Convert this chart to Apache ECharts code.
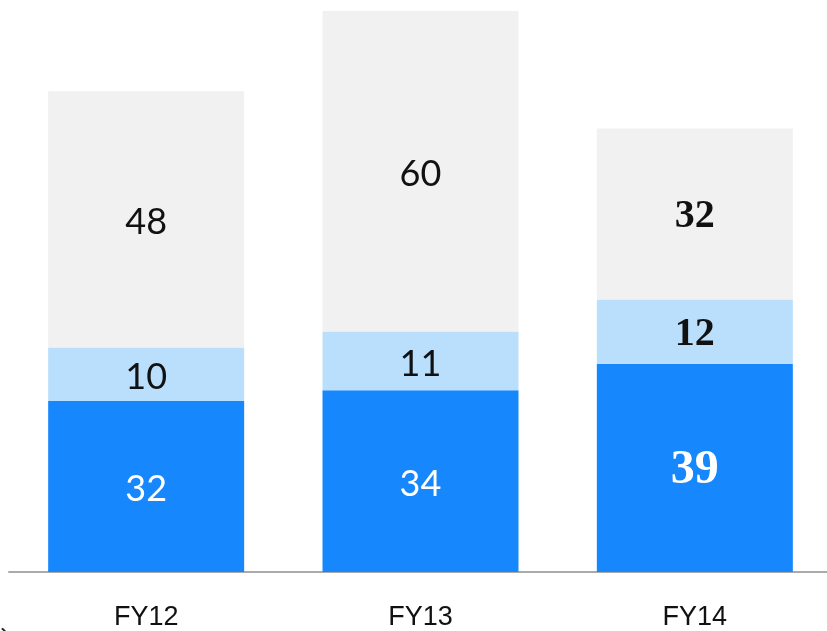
<!DOCTYPE html>
<html><head><meta charset="utf-8">
<script src="https://cdn.jsdelivr.net/npm/echarts@6/dist/echarts.min.js"></script>
<style>html,body{margin:0;padding:0;background:#fff;overflow:hidden}#c{width:832px;height:631px}</style>
</head><body><div id="c"></div>
<script>
const categories = ['FY12', 'FY13', 'FY14'];
const bottomValues = [32, 34, 39];
const middleValues = [10, 11, 12];
const topValues = [48, 60, 32];

const sansLabel = { show: true, position: 'inside', fontFamily: 'Lato', fontWeight: 400, fontSize: 36, offset: [0, 3] };
const serifLabel = { fontFamily: 'Liberation Serif', fontWeight: 'bold', fontSize: 40 };

function mk(vals, big) {
  return vals.map((v, i) => i === 2 ? { value: v, label: Object.assign({}, serifLabel, big ? { fontSize: 48 } : {}) } : v);
}

const chart = echarts.init(document.getElementById('c'));
chart.setOption({
  animation: false,
  grid: { left: 9, top: 11, bottom: 58, right: 0 },
  xAxis: {
    type: 'category', data: categories,
    axisLine: { lineStyle: { color: '#aaaaaa', width: 2 } },
    axisTick: { show: false },
    axisLabel: { color: '#111', fontFamily: 'Liberation Sans', fontSize: 27, margin: 32 }
  },
  yAxis: { type: 'value', min: 0, max: 105, show: false, splitLine: { show: false } },
  series: [
    { type: 'bar', stack: 't', data: mk(bottomValues, true), barWidth: 196, itemStyle: { color: '#1787fd' },
      label: Object.assign({}, sansLabel, { color: '#fff' }) },
    { type: 'bar', stack: 't', data: mk(middleValues, false), itemStyle: { color: '#b9dffd' },
      label: Object.assign({}, sansLabel, { color: '#111' }) },
    { type: 'bar', stack: 't', data: mk(topValues, false), itemStyle: { color: '#f1f1f1' },
      label: Object.assign({}, sansLabel, { color: '#111' }) }
  ],
  graphic: [{ type: 'text', left: 0, top: 613, style: { text: '、', fontSize: 22, fill: '#222', fontFamily: 'Noto Sans CJK SC' } }]
});
</script></body></html>
